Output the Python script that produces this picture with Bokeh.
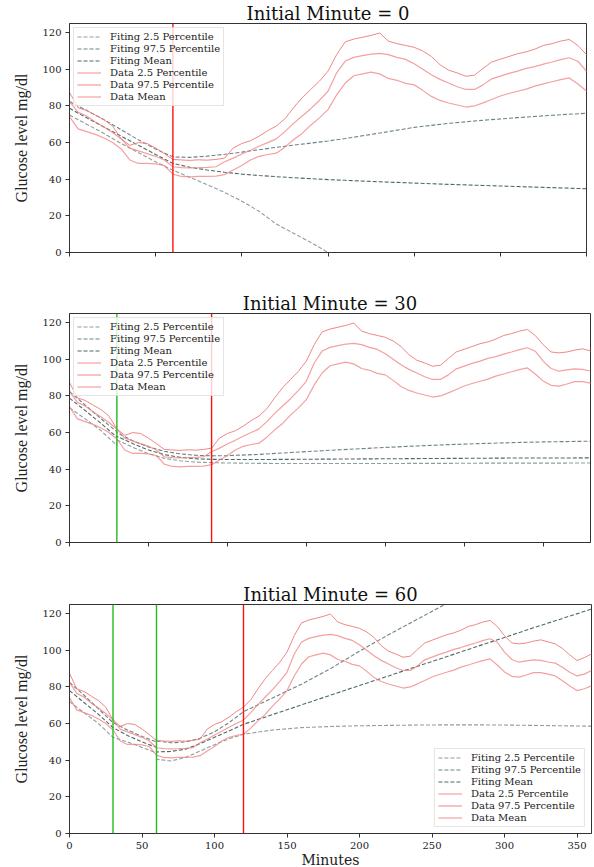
from bokeh.plotting import figure
from bokeh.models import Range1d, Span, SingleIntervalTicker, CustomJSTickFormatter
from bokeh.layouts import column
from bokeh.embed import file_html
from bokeh.resources import INLINE

nan = float("nan")

# ---------------- data ----------------
MINUTES = list(range(0, 361, 5))

DATA_P975 = [87.4, 79, 77.5, 75, 72.5, 69, 62, 58.5, 60, 59.5, 57, 54, 50.8, 50.5, 50.3,
             50.6, 50.4, 50.8, 51.5, 57, 59.5, 61, 63.5, 66.5, 69, 73, 79, 84.5, 89, 93.5,
             99, 108, 115, 116.5, 117.5, 118.5, 119.8, 115.4, 114, 113, 112, 110, 107, 102.5,
             99.5, 98, 96.2, 96.8, 100.5, 104, 105.5, 107, 108.5, 109.5, 111, 113, 114, 115.4,
             116.3, 113, 108, 104, 103.5, 104, 105, 105.7, 104.6, 103.5, 101, 97.5, 94.4, 96, 98]

DATA_MEAN = [82.5, 76.5, 74.5, 71.2, 68.5, 65.5, 62, 57, 55.5, 54, 52.5, 50.5, 46.8, 46.3, 46.2,
             46.3, 46.5, 46.8, 49.5, 51.5, 53.8, 55.8, 58, 60, 62, 66, 70.5, 74.5, 78.5, 83,
             88, 98, 104.5, 106.5, 107.5, 108.3, 108.7, 108, 106.5, 105.4, 103, 100, 97, 94.5,
             92.5, 90.5, 89, 89, 91.5, 94.8, 96.3, 97.8, 99, 100.5, 101.5, 102.8, 104, 105.3,
             106.3, 104.4, 99, 95, 93.5, 94.2, 94.8, 94.5, 93.6, 93, 90.7, 88, 86, 87, 89]

DATA_P25 = [74.2, 67.5, 66, 64.5, 62.5, 60, 56.5, 50.5, 48.6, 48.6, 48.4, 47.5, 42.8, 41.5, 41.3,
            41.5, 41.5, 41.7, 42.5, 45, 47.5, 50.5, 52.5, 53.5, 54.2, 57.5, 61.5, 65, 69.5, 73.5,
            78, 86, 92.5, 96.5, 97.5, 98.5, 97.5, 95, 94, 92.3, 91.5, 88.5, 85.2, 83, 81.6, 80.5,
            79.4, 80, 81.7, 83.5, 85.4, 86.8, 88, 89.2, 90.8, 92, 93.2, 94.4, 95.3, 92, 88.2,
            85.8, 85.4, 86.5, 87.8, 87.8, 87, 86, 83.4, 80.5, 78, 79, 80.6]

# panel 1: initial minute 0
FIT1_T = [0, 10, 20, 30, 40, 50, 60, 70, 80, 90, 100, 110, 120, 130, 140, 150, 160, 180, 200,
          220, 240, 260, 280, 300]
FIT1_P25 = [75, 70, 65, 59.5, 54.5, 49.5, 44.9, 41, 37, 32.8, 28, 22.5, 15.5, 10.5, 5.5, 0, 0,
            0, 0, 0, 0, 0, 0, 0]
FIT1_P975 = [82.4, 77.5, 72.5, 67, 61.5, 56.5, 52.2, 51.9, 52.6, 53.6, 54.8, 56.1, 57.4, 58.6,
             59.7, 60.9, 62.2, 65.2, 68.3, 70.5, 72.2, 73.6, 74.9, 76]
FIT1_MEAN = [78.7, 73.5, 68.5, 63.5, 58.5, 53.5, 48.6, 46.5, 45, 43.8, 42.8, 42, 41.4, 40.8,
             40.3, 39.8, 39.4, 38.6, 37.9, 37.2, 36.6, 36, 35.4, 34.8]

# panel 2: initial minute 30
FIT2_T = [0, 10, 20, 30, 30, 40, 50, 60, 70, 80, 90, 100, 120, 140, 160, 180, 200, 220, 240,
          260, 280, 300, 330]
FIT2_P25 = [73.5, 67.5, 61, 53, 56, 52, 48.5, 46, 44.6, 43.9, 43.6, 43.4, 43.2, 43.1, 43.1,
            43.1, 43.1, 43.2, 43.2, 43.3, 43.3, 43.3, 43.4]
FIT2_P975 = [82.4, 75, 67.5, 60.5, 60, 55.5, 52.2, 49.8, 48.4, 47.6, 47.3, 47.4, 48.1, 49.1,
             50.1, 51, 51.9, 52.7, 53.4, 54, 54.5, 54.9, 55.3]
FIT2_MEAN = [78.8, 72, 65, 57.5, 58, 54, 50.5, 48, 46.5, 45.7, 45.4, 45.3, 45.3, 45.4, 45.5,
             45.6, 45.7, 45.8, 45.9, 46, 46.1, 46.1, 46.2]

# panel 3: initial minute 60
FIT3_T = [0, 10, 20, 30, 40, 50, 60, 60, 70, 80, 90, 100, 110, 120, 140, 160, 180, 200, 220,
          240, 260, 280, 300, 320, 340, 360]
FIT3_P25 = [72, 66, 60, 52.5, 50, 47, 44, 40.5, 39.6, 41.5, 45, 48.5, 51.7, 54.2, 56.5, 57.8,
            58.4, 58.8, 59, 59.2, 59.3, 59.3, 59.2, 59, 58.8, 58.6]
FIT3_P975 = [82.5, 75.5, 68, 60.5, 56.5, 53, 50, 50.5, 49.5, 50, 52, 55.5, 60.5, 66.5, 74,
             81.5, 90, 99.5, 108.5, 117, 125.5, 134, nan, nan, nan, nan]
FIT3_MEAN = [78, 71.5, 65, 57.8, 53.5, 50, 47, 44.5, 44.8, 46, 49, 52.5, 56, 59.6, 64.9, 70.2,
             75.5, 80.8, 86, 91.3, 96.5, 101.8, 107, 112.3, 117.4, 122.5]

TITLES = ["Initial Minute = 0", "Initial Minute = 30", "Initial Minute = 60"]
X_MAX = [300, 330, 360]
GREEN_LINES = [[], [30], [30, 60]]
RED_LINES = [60, 90, 120]
FITS = [(FIT1_T, FIT1_P25, FIT1_P975, FIT1_MEAN),
        (FIT2_T, FIT2_P25, FIT2_P975, FIT2_MEAN),
        (FIT3_T, FIT3_P25, FIT3_P975, FIT3_MEAN)]

# ---------------- styling ----------------
SERIF = "DejaVu Serif"
AX = "#333333"
FIT_C = "#2F4F4F"
DATA_C = "#F08080"
FRAME_W = [517, 521, 522]
FRAME_H = 229
BORDER_BOTTOM = [38, 39, 34]

figs = []
for i in range(3):
    p = figure(frame_width=FRAME_W[i], frame_height=FRAME_H,
               x_range=Range1d(0, X_MAX[i]), y_range=Range1d(0, 125),
               output_backend="svg", toolbar_location=None,
               min_border_left=69, min_border_right=2, min_border_top=23,
               min_border_bottom=BORDER_BOTTOM[i], title=TITLES[i])
    p.title.text_font = SERIF
    p.title.text_font_size = "18px"
    p.title.text_font_style = "normal"
    p.title.text_color = "#111111"
    p.title.align = "center"
    p.title.standoff = 0
    p.grid.visible = False
    p.outline_line_color = AX
    p.outline_line_alpha = 1
    p.background_fill_color = "white"
    p.border_fill_color = "white"

    for ax in (p.xaxis[0], p.yaxis[0]):
        ax.axis_line_color = AX
        ax.major_tick_line_color = AX
        ax.minor_tick_line_color = None
        ax.major_tick_in = 0
        ax.major_tick_out = 4
        ax.major_label_text_font = SERIF
        ax.major_label_text_font_size = "10px"
        ax.major_label_text_color = "#222222"
        ax.major_label_standoff = 4
    p.xaxis.ticker = SingleIntervalTicker(interval=50)
    p.yaxis.ticker = SingleIntervalTicker(interval=20)
    p.yaxis.axis_label = "Glucose level mg/dl"
    p.yaxis.axis_label_text_font = "Liberation Serif"
    p.yaxis.axis_label_text_font_size = "16px"
    p.yaxis.axis_label_text_font_style = "normal"
    p.yaxis.axis_label_text_color = "#222222"
    p.yaxis.axis_label_standoff = 9
    if i < 2:
        p.xaxis.formatter = CustomJSTickFormatter(code="return ''")
    else:
        p.xaxis.axis_label = "Minutes"
        p.xaxis.axis_label_text_font = SERIF
        p.xaxis.axis_label_text_font_size = "14px"
        p.xaxis.axis_label_text_font_style = "normal"
        p.xaxis.axis_label_text_color = "#222222"
        p.xaxis.axis_label_standoff = 0

    # vertical markers first so the legend sits above them
    for g in GREEN_LINES[i]:
        p.add_layout(Span(location=g, dimension="height", line_color="#22BB22", line_width=1.4))
    p.add_layout(Span(location=RED_LINES[i], dimension="height", line_color="#FF1010", line_width=1.4))

    t, f25, f975, fmean = FITS[i]
    p.line(t, f25, line_color=FIT_C, line_alpha=0.55, line_width=1.1, line_dash="4 2",
           legend_label="Fiting 2.5 Percentile")
    p.line(t, f975, line_color=FIT_C, line_alpha=0.7, line_width=1.1, line_dash="4 2",
           legend_label="Fiting 97.5 Percentile")
    p.line(t, fmean, line_color=FIT_C, line_alpha=0.85, line_width=1.1, line_dash="4 2",
           legend_label="Fiting Mean")
    p.line(MINUTES, DATA_P25, line_color=DATA_C, line_alpha=0.75, line_width=1.2,
           legend_label="Data 2.5 Percentile")
    p.line(MINUTES, DATA_P975, line_color=DATA_C, line_alpha=0.95, line_width=1.0,
           legend_label="Data 97.5 Percentile")
    p.line(MINUTES, DATA_MEAN, line_color=DATA_C, line_alpha=0.75, line_width=1.2,
           legend_label="Data Mean")

    lg = p.legend[0]
    lg.location = "top_left" if i < 2 else "bottom_right"
    lg.margin = 4 if i < 2 else 6
    lg.padding = 3
    lg.spacing = 1
    lg.label_height = 11
    lg.glyph_height = 11
    lg.glyph_width = 24
    lg.label_standoff = 9
    lg.label_text_font = SERIF
    lg.label_text_font_size = "10px"
    lg.label_text_color = "#222222"
    lg.border_line_color = "#CCCCCC"
    lg.border_line_width = 1
    lg.background_fill_alpha = 0.8
    figs.append(p)

layout = column(*figs, spacing=0)
open("out.html", "w").write(file_html(layout, INLINE))
